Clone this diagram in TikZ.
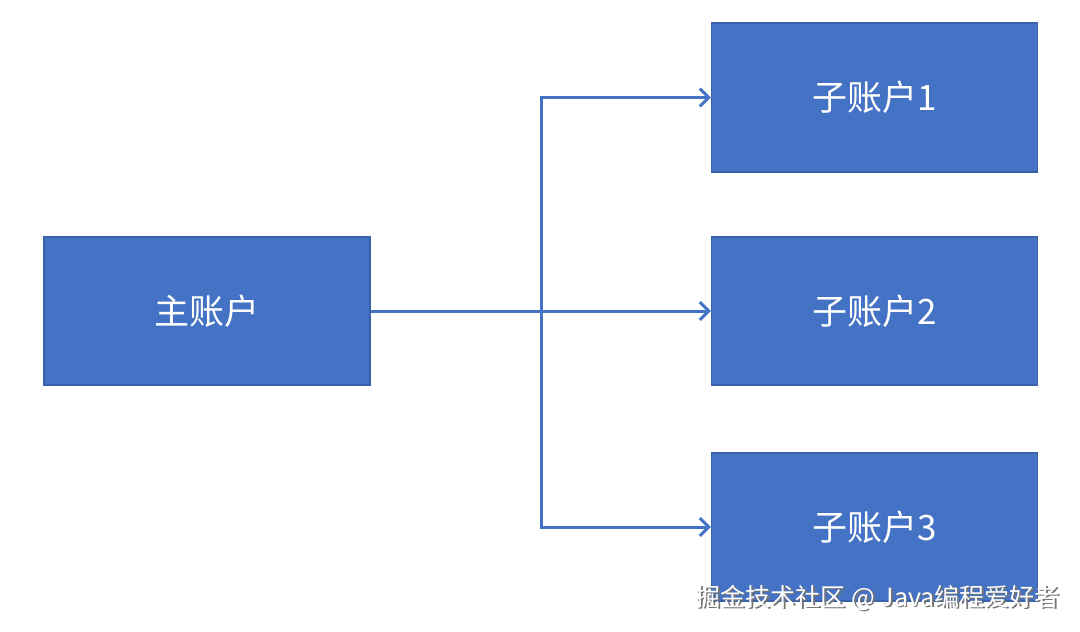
\documentclass[tikz,border=0pt]{standalone}
\usepackage{fontspec}
\newfontfamily\cjk{Noto Sans CJK SC}
\usetikzlibrary{arrows.meta}
\definecolor{boxblue}{HTML}{4472C4}
\definecolor{boxedge}{HTML}{3A62A8}
\definecolor{lineblue}{HTML}{4472C4}
\tikzset{
  acct/.style={draw=boxedge, line width=1.2pt, fill=boxblue, text=white,
    minimum width=326pt, minimum height=148pt, inner sep=0pt,
    font=\cjk\fontsize{35}{42}\selectfont},
  conn/.style={draw=lineblue, line width=3pt},
  arr/.style={conn, -{Straight Barb[length=9pt, width=18pt, line width=3pt]}},
  wm/.style={font=\cjk\fontsize{25}{30}\selectfont, inner sep=0pt, anchor=east}
}
\begin{document}
\begin{tikzpicture}[x=1pt, y=-1pt]
\useasboundingbox (0,0) rectangle (1080,632);
\node[acct] (main) at (207,311) {主账户};
\node[acct, minimum height=149pt] (s1) at (874.5,97.5) {子账户1};
\node[acct] (s2) at (874.5,311) {子账户2};
\node[acct] (s3) at (874.5,527) {子账户3};
\coordinate (j) at (541,311);
\draw[conn] (main.east) -- (j);
\draw[arr] (j) -- (s2.west);
\draw[arr] (j) |- (s1.west);
\draw[arr] (j) |- (s3.west);
\node[wm, text=black!55] (wms) at (1061.5,599.5) {掘金技术社区 @ Java编程爱好者};
\node[wm, text=white] (wmt) at (1060,598) {掘金技术社区 @ Java编程爱好者};
\end{tikzpicture}
\end{document}
